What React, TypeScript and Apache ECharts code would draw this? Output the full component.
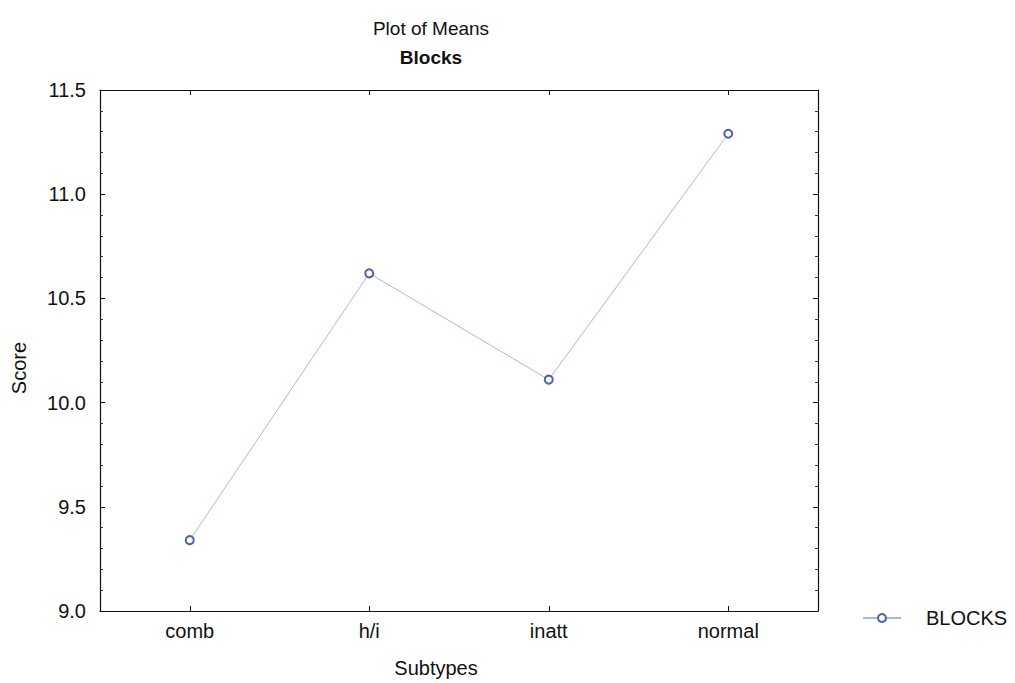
import React, { useEffect, useRef } from "react";
import * as echarts from "echarts";

const categories = ["comb", "h/i", "inatt", "normal"];
const blocksMeans = [9.34, 10.62, 10.11, 11.29];
const seriesName = "BLOCKS";
const titleMain = "Plot of Means";
const titleSub = "Blocks";
const xTitle = "Subtypes";
const yTitle = "Score";
const yMin = 9.0;
const yMax = 11.5;
const yStep = 0.5;

const FONT = "'Liberation Sans', Arial, sans-serif";

export default function App() {
  const ref = useRef<HTMLDivElement>(null);
  useEffect(() => {
    document.body.style.margin = "0";
    const chart = echarts.init(ref.current!, null, { renderer: "svg" });
    const axisLine = { show: true, lineStyle: { color: "#111", width: 1.2 } };
    const tickStyle = { show: true, inside: true, length: 5, lineStyle: { color: "#111" } };
    chart.setOption({
      animation: false,
      backgroundColor: "#fff",
      textStyle: { fontFamily: FONT },
      grid: { left: 100, top: 90, width: 718, height: 521, containLabel: false },
      graphic: [
        {
          type: "text",
          x: 431,
          y: 28,
          style: { text: titleMain, font: `19px ${FONT}`, fill: "#111", textAlign: "center", textVerticalAlign: "middle" },
        },
        {
          type: "text",
          x: 431,
          y: 57,
          style: { text: titleSub, font: `bold 19px ${FONT}`, fill: "#111", textAlign: "center", textVerticalAlign: "middle" },
        },
        {
          type: "text",
          x: 436,
          y: 668,
          style: { text: xTitle, font: `20px ${FONT}`, fill: "#111", textAlign: "center", textVerticalAlign: "middle" },
        },
        {
          type: "text",
          x: 19,
          y: 368,
          rotation: Math.PI / 2,
          style: { text: yTitle, font: `20px ${FONT}`, fill: "#111", textAlign: "center", textVerticalAlign: "middle" },
        },
      ],
      legend: {
        left: 857,
        top: 603,
        itemWidth: 38,
        itemHeight: 10,
        data: [seriesName],
        textStyle: { fontSize: 20, color: "#111", fontFamily: FONT, padding: [0, 0, 0, 20] },
      },
      xAxis: [
        {
          type: "category",
          data: categories,
          boundaryGap: true,
          axisLine,
          axisTick: { ...tickStyle, alignWithLabel: true },
          axisLabel: { fontSize: 20, color: "#111", margin: 10, fontFamily: FONT },
          splitLine: { show: false },
        },
        {
          type: "category",
          position: "top",
          data: categories,
          boundaryGap: true,
          axisLine,
          axisTick: { ...tickStyle, alignWithLabel: true },
          axisLabel: { show: false },
          splitLine: { show: false },
        },
      ],
      yAxis: [
        {
          type: "value",
          min: yMin,
          max: yMax,
          interval: yStep,
          axisLine,
          axisTick: tickStyle,
          minorTick: { show: true, splitNumber: 5, length: 3, lineStyle: { color: "#333" } },
          axisLabel: { fontSize: 20, color: "#111", margin: 14, fontFamily: FONT, formatter: (v: number) => v.toFixed(1) },
          splitLine: { show: false },
        },
        {
          type: "value",
          position: "right",
          min: yMin,
          max: yMax,
          interval: yStep,
          axisLine,
          axisTick: tickStyle,
          minorTick: { show: true, splitNumber: 5, length: 3, lineStyle: { color: "#333" } },
          axisLabel: { show: false },
          splitLine: { show: false },
        },
      ],
      series: [
        {
          name: seriesName,
          type: "line",
          data: blocksMeans,
          symbol: "emptyCircle",
          symbolSize: 8,
          showSymbol: true,
          lineStyle: { color: "#a8b8e2", width: 1 },
          itemStyle: { color: "#4c64a6", borderColor: "#4c64a6", borderWidth: 1.6 },
        },
      ],
    });
    return () => chart.dispose();
  }, []);
  return <div ref={ref} style={{ width: 1015, height: 683 }} />;
}
